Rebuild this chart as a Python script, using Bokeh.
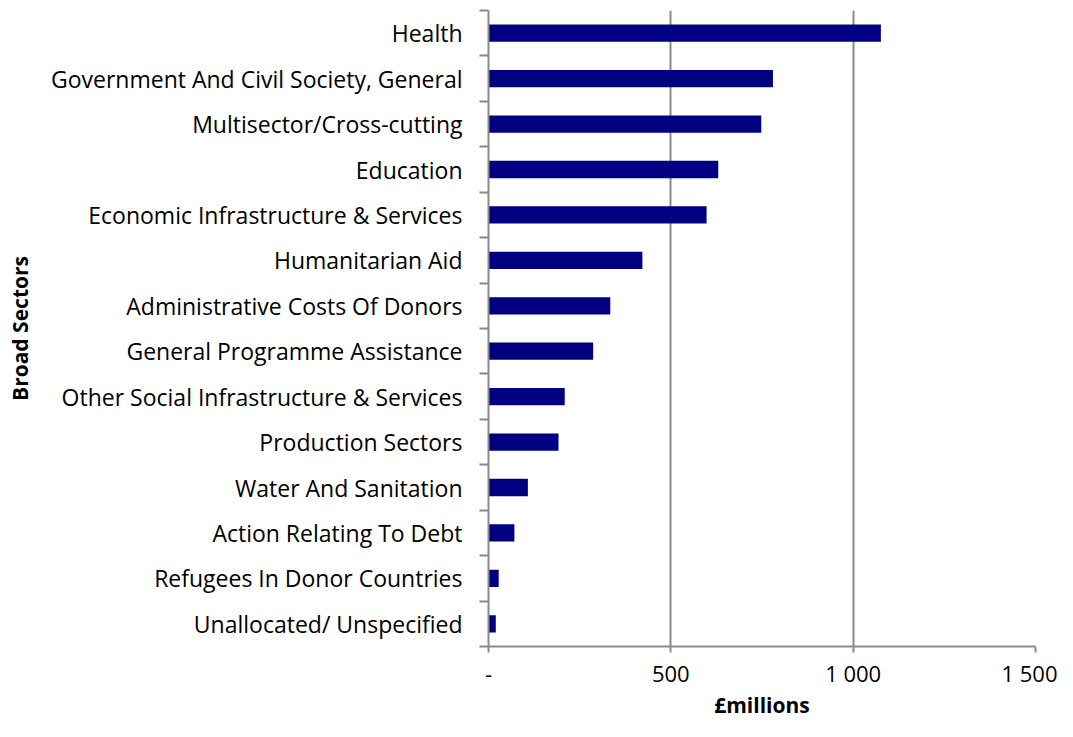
from bokeh.plotting import figure
from bokeh.models import Range1d, FixedTicker
from bokeh.embed import file_html
from bokeh.resources import INLINE

sectors = [
    "Health",
    "Government And Civil Society, General",
    "Multisector/Cross-cutting",
    "Education",
    "Economic Infrastructure & Services",
    "Humanitarian Aid",
    "Administrative Costs Of Donors",
    "General Programme Assistance",
    "Other Social Infrastructure & Services",
    "Production Sectors",
    "Water And Sanitation",
    "Action Relating To Debt",
    "Refugees In Donor Countries",
    "Unallocated/ Unspecified",
]
values = [1076, 780, 748, 630, 598, 422, 334, 287, 209, 192, 108, 71, 28, 20]

x_ticks = [0, 500, 1000, 1500]
x_tick_labels = ["-", "500", "1 000", "1 500"]
x_title = "£millions"
y_title = "Broad Sectors"

n = len(sectors)
centers = [i + 0.5 for i in range(n)]
boundaries = [float(i) for i in range(n + 1)]

FONT = "Open Sans"
GRAY = "#898989"

p = figure(width=1057, height=721, output_backend="svg", toolbar_location=None,
           x_range=Range1d(0, 1500), y_range=Range1d(n, 0),
           min_border_left=488, min_border_right=22, min_border_top=10, min_border_bottom=69)
p.outline_line_color = None

p.hbar(y=centers, left=0, right=values, height=0.38, fill_color="#000080", line_color=None)

# x axis
p.xaxis.ticker = FixedTicker(ticks=x_ticks)
p.xaxis.major_label_overrides = {t: l for t, l in zip(x_ticks, x_tick_labels)}
p.xaxis.axis_line_color = GRAY
p.xaxis.axis_line_width = 2
p.xaxis.major_tick_line_color = GRAY
p.xaxis.major_tick_line_width = 2
p.xaxis.major_tick_out = 6
p.xaxis.major_tick_in = 0
p.xaxis.minor_tick_line_color = None
p.xaxis.major_label_text_font = FONT
p.xaxis.major_label_text_font_size = "22px"
p.xaxis.major_label_text_color = "black"
p.xaxis.major_label_standoff = 5
p.xaxis.axis_label = x_title
p.xaxis.axis_label_text_font = FONT
p.xaxis.axis_label_text_font_style = "bold"
p.xaxis.axis_label_text_font_size = "21px"
p.xaxis.axis_label_text_color = "black"
p.xaxis.axis_label_standoff = 0

# y axis
p.yaxis.ticker = FixedTicker(ticks=centers, minor_ticks=boundaries)
p.yaxis.major_label_overrides = {c: s for c, s in zip(centers, sectors)}
p.yaxis.axis_line_color = GRAY
p.yaxis.axis_line_width = 2
p.yaxis.major_tick_line_color = None
p.yaxis.major_tick_out = 0
p.yaxis.major_tick_in = 0
p.yaxis.minor_tick_line_color = GRAY
p.yaxis.minor_tick_line_width = 2
p.yaxis.minor_tick_out = 9
p.yaxis.minor_tick_in = 0
p.yaxis.major_label_text_font = FONT
p.yaxis.major_label_text_font_size = "23px"
p.yaxis.major_label_text_color = "black"
p.yaxis.major_label_standoff = 17
p.yaxis.axis_label = y_title
p.yaxis.axis_label_text_font = FONT
p.yaxis.axis_label_text_font_style = "bold"
p.yaxis.axis_label_text_font_size = "21px"
p.yaxis.axis_label_text_color = "black"
p.yaxis.axis_label_standoff = 14

p.xgrid.ticker = FixedTicker(ticks=x_ticks)
p.xgrid.grid_line_color = GRAY
p.xgrid.grid_line_width = 2
p.ygrid.grid_line_color = None

open("out.html", "w").write(file_html(p, INLINE))
